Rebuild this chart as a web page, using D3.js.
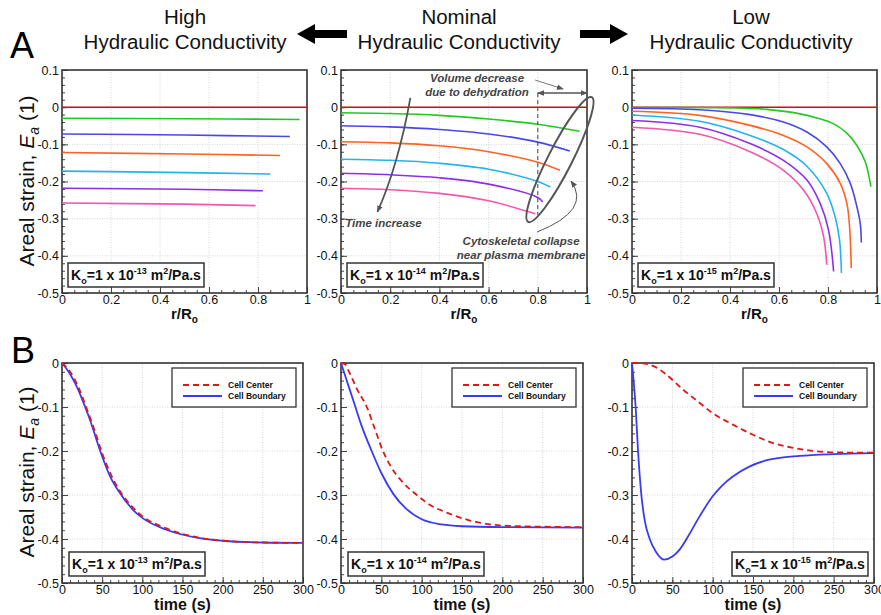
<!DOCTYPE html>
<html><head><meta charset="utf-8">
<script src="https://cdn.jsdelivr.net/npm/d3@7"></script>
<style>
body{margin:0;background:#fff}
svg{font-family:"Liberation Sans",Arial,sans-serif}
</style></head><body>
<svg width="881" height="615"></svg>
<script>
// tick values
const rTicks = [0, 0.2, 0.4, 0.6, 0.8, 1];
const strainTicksA = [0.1, 0, -0.1, -0.2, -0.3, -0.4, -0.5];
const strainTicksB = [0, -0.1, -0.2, -0.3, -0.4, -0.5];
const timeTicks = [0, 50, 100, 150, 200, 250, 300];
const kExponents = ["-13", "-14", "-15"];
const headers = ["High", "Nominal", "Low"];
const legendNames = ["Cell Center", "Cell Boundary"];

// A: areal strain vs r/Ro, one curve per time step
const zeroLine = [[0, 0], [1, 0]];
const highStrain = [
  [[0,-0.030],[0.5,-0.031],[0.97,-0.033]],
  [[0,-0.072],[0.5,-0.075],[0.93,-0.079]],
  [[0,-0.122],[0.5,-0.126],[0.89,-0.130]],
  [[0,-0.172],[0.5,-0.176],[0.85,-0.180]],
  [[0,-0.218],[0.5,-0.221],[0.82,-0.225]],
  [[0,-0.258],[0.5,-0.261],[0.79,-0.265]]
];
const nominalStrain = [
  [[0,-0.015],[0.2,-0.017],[0.4,-0.022],[0.6,-0.032],[0.8,-0.046],[0.97,-0.065]],
  [[0,-0.050],[0.2,-0.053],[0.4,-0.060],[0.6,-0.072],[0.8,-0.094],[0.93,-0.118]],
  [[0,-0.093],[0.2,-0.096],[0.4,-0.104],[0.6,-0.120],[0.8,-0.148],[0.89,-0.170]],
  [[0,-0.140],[0.2,-0.143],[0.4,-0.151],[0.6,-0.167],[0.8,-0.200],[0.85,-0.215]],
  [[0,-0.178],[0.2,-0.182],[0.4,-0.190],[0.6,-0.207],[0.8,-0.243],[0.82,-0.255]],
  [[0,-0.218],[0.2,-0.222],[0.4,-0.232],[0.6,-0.252],[0.79,-0.287]]
];
const lowStrain = [
  [[0,-0.001],[0.41,-0.002],[0.55,-0.006],[0.686,-0.018],[0.754,-0.029],[0.823,-0.045],[0.877,-0.07],[0.918,-0.103],[0.952,-0.147],[0.975,-0.214]],
  [[0,-0.003],[0.277,-0.007],[0.482,-0.02],[0.618,-0.04],[0.714,-0.067],[0.795,-0.107],[0.85,-0.152],[0.891,-0.205],[0.918,-0.268],[0.932,-0.315],[0.936,-0.364]],
  [[0,-0.011],[0.277,-0.022],[0.482,-0.049],[0.618,-0.076],[0.714,-0.107],[0.795,-0.152],[0.85,-0.205],[0.877,-0.259],[0.888,-0.321],[0.895,-0.433]],
  [[0,-0.021],[0.277,-0.038],[0.482,-0.076],[0.618,-0.114],[0.714,-0.159],[0.795,-0.232],[0.829,-0.295],[0.847,-0.357],[0.855,-0.446]],
  [[0,-0.036],[0.277,-0.054],[0.482,-0.098],[0.618,-0.143],[0.714,-0.196],[0.768,-0.259],[0.802,-0.33],[0.823,-0.442]],
  [[0,-0.054],[0.277,-0.073],[0.482,-0.12],[0.618,-0.17],[0.7,-0.223],[0.754,-0.286],[0.782,-0.348],[0.795,-0.424]]
];

// B: areal strain vs time (s)
const highCenter = [[0,0],[10,-0.02],[20,-0.053],[30,-0.1],[40,-0.15],[50,-0.205],[60,-0.25],[70,-0.285],[88,-0.328],[100,-0.348],[130,-0.376],[171,-0.397],[200,-0.404],[250,-0.408],[300,-0.409]];
const highBoundary = [[0,0],[10,-0.025],[20,-0.06],[26,-0.087],[35,-0.13],[47,-0.197],[60,-0.258],[70,-0.29],[88,-0.333],[100,-0.352],[130,-0.379],[171,-0.398],[200,-0.404],[250,-0.408],[300,-0.409]];
const nominalCenter = [[0,0],[5,-0.003],[10,-0.02],[20,-0.06],[32,-0.1],[42,-0.15],[52,-0.2],[62,-0.236],[75,-0.268],[94,-0.3],[110,-0.322],[131,-0.34],[160,-0.358],[197,-0.369],[250,-0.372],[300,-0.373]];
const nominalBoundary = [[0,0],[5,-0.028],[10,-0.056],[17,-0.095],[25,-0.14],[38,-0.2],[50,-0.25],[65,-0.298],[80,-0.33],[100,-0.355],[125,-0.367],[150,-0.371],[200,-0.373],[300,-0.374]];
const lowCenter = [[0,0],[10,0],[20,-0.003],[30,-0.01],[43,-0.027],[63,-0.06],[84,-0.091],[100,-0.114],[125,-0.14],[150,-0.163],[175,-0.182],[200,-0.193],[225,-0.2],[250,-0.203],[300,-0.204]];
const lowBoundary = [[0,0],[2,-0.04],[4.5,-0.1],[7.5,-0.2],[11.6,-0.3],[16,-0.36],[22,-0.4],[30,-0.43],[40,-0.447],[50,-0.44],[59,-0.424],[72,-0.386],[84,-0.348],[100,-0.303],[112,-0.278],[125,-0.258],[146,-0.235],[167,-0.221],[208,-0.211],[250,-0.207],[300,-0.205]];

const curveColors = ["#22c822", "#4848e8", "#ff6222", "#22b4ec", "#8c30e8", "#f256ae"];
const zeroColor = "#cc1111";

const svg = d3.select("svg");
const font = '"Liberation Sans",Arial,sans-serif';

// marker defs
const defs = svg.append("defs");
defs.append("marker").attr("id", "arr").attr("viewBox", "0 0 10 10")
  .attr("refX", 9).attr("refY", 5).attr("markerWidth", 7).attr("markerHeight", 7)
  .attr("markerUnits", "userSpaceOnUse").attr("orient", "auto-start-reverse")
  .append("path").attr("d", "M0,1 L10,5 L0,9 Z").attr("fill", "#555");

// header
const headerX = [185, 459, 751];
headers.forEach((h, i) => {
  const t = svg.append("text").attr("x", headerX[i]).attr("text-anchor", "middle")
    .attr("font-size", 20.5).attr("fill", "#111");
  t.append("tspan").attr("x", headerX[i]).attr("y", 24).text(h);
  t.append("tspan").attr("x", headerX[i]).attr("y", 49).text("Hydraulic Conductivity");
});
svg.append("path").attr("d", "M297,34 L315,24 L315,30 L347,30 L347,38 L315,38 L315,44 Z").attr("fill", "#000");
svg.append("path").attr("d", "M628,34 L610,24 L610,30 L580,30 L580,38 L610,38 L610,44 Z").attr("fill", "#000");
svg.append("text").attr("x", 10).attr("y", 58).attr("font-size", 36).text("A");
svg.append("text").attr("x", 11).attr("y", 363).attr("font-size", 36).text("B");

function fmtR(d) { return (d === 0 || d === 1) ? String(d) : d.toFixed(1); }
function fmtS(d) { return d === 0 ? "0" : d.toFixed(1); }

function drawAxes(g, x, y, xt, xm, yt, ym, fx, fy) {
  const [x0, x1] = x.range(), [y0, y1] = y.range();
  g.append("g").selectAll("line").data(xt.slice(1, -1)).join("line")
    .attr("x1", d => x(d)).attr("x2", d => x(d)).attr("y1", y0).attr("y2", y1)
    .attr("stroke", "#d4d4d4").attr("stroke-dasharray", "1,1.5");
  g.append("g").selectAll("line").data(yt.filter(d => d !== y.domain()[0] && d !== y.domain()[1])).join("line")
    .attr("y1", d => y(d)).attr("y2", d => y(d)).attr("x1", x0).attr("x2", x1)
    .attr("stroke", "#d4d4d4").attr("stroke-dasharray", "1,1.5");

  const ym1 = g.append("g").attr("transform", `translate(${x0},0)`)
    .call(d3.axisLeft(y).tickValues(ym).tickSize(-3).tickFormat(""));
  const ya = g.append("g").attr("transform", `translate(${x0},0)`)
    .call(d3.axisLeft(y).tickValues(yt).tickSize(-6).tickPadding(3).tickFormat(fy));
  const xm1 = g.append("g").attr("transform", `translate(0,${y0})`)
    .call(d3.axisBottom(x).tickValues(xm).tickSize(-3).tickFormat(""));
  const xa = g.append("g").attr("transform", `translate(0,${y0})`)
    .call(d3.axisBottom(x).tickValues(xt).tickSize(-6).tickPadding(2).tickFormat(fx));
  [ym1, ya, xm1, xa].forEach(a => {
    a.select(".domain").remove();
    a.attr("font-family", font).attr("font-size", 12.5);
    a.selectAll("line").attr("stroke", "#444");
    a.selectAll("text").attr("fill", "#111");
  });
  g.append("rect").attr("x", x0).attr("y", y1).attr("width", x1 - x0).attr("height", y0 - y1)
    .attr("fill", "none").attr("stroke", "#333").attr("stroke-width", 1.6);
}

function kLabel(g, bx, by, exp) {
  g.append("rect").attr("x", bx).attr("y", by).attr("width", 136).attr("height", 24)
    .attr("fill", "#fff").attr("stroke", "#333").attr("stroke-width", 1.5);
  const t = g.append("text").attr("x", bx + 68).attr("y", by + 17).attr("text-anchor", "middle")
    .attr("font-size", 14).attr("font-weight", "bold").attr("fill", "#111");
  t.append("tspan").text("K");
  t.append("tspan").attr("font-size", 9).attr("dy", 4).text("o");
  t.append("tspan").attr("dy", -4).text("=1 x 10");
  t.append("tspan").attr("font-size", 9).attr("dy", -6).text(exp);
  t.append("tspan").attr("dy", 6).text(" m");
  t.append("tspan").attr("font-size", 9).attr("dy", -6).text("2");
  t.append("tspan").attr("dy", 6).text("/Pa.s");
}

function yLabel(cy) {
  const t = svg.append("text").attr("transform", `translate(34,${cy}) rotate(-90)`)
    .attr("text-anchor", "middle").attr("font-size", 21).attr("fill", "#111");
  t.append("tspan").text("Areal strain, ");
  t.append("tspan").attr("font-style", "italic").text("E");
  t.append("tspan").attr("font-style", "italic").attr("font-size", 14).attr("dy", 5).text("a");
  t.append("tspan").attr("dy", -5).text(" (1)");
}
yLabel(181);
yLabel(472);

// ---- row A ----
const topLayout = [{l: 62, r: 307}, {l: 341, r: 587}, {l: 632, r: 877}];
const topData = [highStrain, nominalStrain, lowStrain];
const rMinor = d3.range(0, 21).map(i => i * 0.05);
const sMinorA = d3.range(-25, 6).map(i => i * 0.02);
const xScalesA = [], yScalesA = [];
topLayout.forEach((p, i) => {
  const g = svg.append("g");
  const x = d3.scaleLinear().domain([0, 1]).range([p.l, p.r]);
  const y = d3.scaleLinear().domain([-0.5, 0.1]).range([293, 70]);
  xScalesA.push(x); yScalesA.push(y);
  drawAxes(g, x, y, rTicks, rMinor, strainTicksA, sMinorA, fmtR, fmtS);
  const line = d3.line().x(d => x(d[0])).y(d => y(d[1])).curve(d3.curveCatmullRom.alpha(0.5));
  g.append("path").attr("d", line(zeroLine)).attr("fill", "none").attr("stroke", zeroColor).attr("stroke-width", 1.5);
  g.selectAll(".curve").data(topData[i]).join("path").attr("class", "curve")
    .attr("d", line).attr("fill", "none").attr("stroke", (d, j) => curveColors[j]).attr("stroke-width", 1.6);
  kLabel(g, p.l + 6, 263, kExponents[i]);
  const xl = g.append("text").attr("x", (p.l + p.r) / 2).attr("y", 319).attr("text-anchor", "middle")
    .attr("font-size", 15).attr("font-weight", "bold").attr("fill", "#111");
  xl.append("tspan").text("r/R");
  xl.append("tspan").attr("font-size", 10).attr("dy", 4).text("o");
});

// annotations on the nominal panel
{
  const x = xScalesA[1], y = yScalesA[1];
  const g = svg.append("g").attr("fill", "#444").attr("font-style", "italic").attr("font-weight", "bold").attr("font-size", 11.5);
  g.append("text").attr("x", x(0.553)).attr("y", y(0.068)).attr("text-anchor", "middle").text("Volume decrease");
  g.append("text").attr("x", x(0.553)).attr("y", y(0.030)).attr("text-anchor", "middle").text("due to dehydration");
  g.append("text").attr("x", x(0.017)).attr("y", y(-0.322)).text("Time increase");
  g.append("text").attr("x", x(0.732)).attr("y", y(-0.371)).attr("text-anchor", "middle").text("Cytoskeletal collapse");
  g.append("text").attr("x", x(0.732)).attr("y", y(-0.408)).attr("text-anchor", "middle").text("near plasma membrane");

  svg.append("line").attr("x1", x(0.8)).attr("x2", x(0.8)).attr("y1", y(0.038)).attr("y2", y(-0.29))
    .attr("stroke", "#444").attr("stroke-dasharray", "4,3");
  svg.append("line").attr("x1", x(0.8)).attr("x2", x(1)).attr("y1", y(0.038)).attr("y2", y(0.038))
    .attr("stroke", "#555").attr("stroke-width", 1.5)
    .attr("marker-start", "url(#arr)").attr("marker-end", "url(#arr)");
  svg.append("line").attr("x1", x(0.789)).attr("y1", y(0.073)).attr("x2", x(0.903)).attr("y2", y(0.049))
    .attr("stroke", "#555").attr("stroke-width", 0.8).attr("marker-end", "url(#arr)");
  svg.append("ellipse").attr("transform", `translate(${x(0.89)},${y(-0.141)}) rotate(-63)`)
    .attr("rx", 70).attr("ry", 12).attr("fill", "none").attr("stroke", "#555").attr("stroke-width", 2);
  svg.append("path")
    .attr("d", `M${x(0.282)},${y(0.025)} Q${x(0.233)},${y(-0.156)} ${x(0.148)},${y(-0.282)}`)
    .attr("fill", "none").attr("stroke", "#555").attr("stroke-width", 1.8).attr("marker-end", "url(#arr)");
  svg.append("path")
    .attr("d", `M${x(0.797)},${y(-0.336)} Q${x(1.02)},${y(-0.277)} ${x(0.935)},${y(-0.199)}`)
    .attr("fill", "none").attr("stroke", "#555").attr("stroke-width", 1).attr("marker-end", "url(#arr)");
}

// ---- row B ----
const botLayout = [{l: 62, r: 303}, {l: 341, r: 583}, {l: 632, r: 874}];
const botData = [[highCenter, highBoundary], [nominalCenter, nominalBoundary], [lowCenter, lowBoundary]];
const tMinor = d3.range(0, 31).map(i => i * 10);
const sMinorB = d3.range(-25, 1).map(i => i * 0.02);
botLayout.forEach((p, i) => {
  const g = svg.append("g");
  const x = d3.scaleLinear().domain([0, 300]).range([p.l, p.r]);
  const y = d3.scaleLinear().domain([-0.5, 0]).range([583, 363]);
  drawAxes(g, x, y, timeTicks, tMinor, strainTicksB, sMinorB, d => String(d), fmtS);
  const line = d3.line().x(d => x(d[0])).y(d => y(d[1])).curve(d3.curveMonotoneX);
  g.append("path").attr("d", line(botData[i][1])).attr("fill", "none").attr("stroke", "#3a3af5").attr("stroke-width", 1.8);
  g.append("path").attr("d", line(botData[i][0])).attr("fill", "none").attr("stroke", "#dd1818")
    .attr("stroke-width", 1.8).attr("stroke-dasharray", "6,4");
  // legend
  const lx = p.r - 131, ly = 368;
  g.append("rect").attr("x", lx).attr("y", ly).attr("width", 124).attr("height", 39)
    .attr("fill", "#fff").attr("stroke", "#333").attr("stroke-width", 1.3);
  legendNames.forEach((n, j) => {
    const yy = ly + 17 + j * 11;
    g.append("line").attr("x1", lx + 11).attr("x2", lx + 50).attr("y1", yy).attr("y2", yy)
      .attr("stroke", j === 0 ? "#dd1818" : "#3a3af5").attr("stroke-width", 1.8)
      .attr("stroke-dasharray", j === 0 ? "6,4" : null);
    g.append("text").attr("x", lx + 56).attr("y", yy + 3).attr("font-size", 8.5).attr("font-weight", "bold")
      .attr("fill", "#111").text(n);
  });
  kLabel(g, i === 2 ? p.r - 142 : p.l + 7, 552, kExponents[i]);
  g.append("text").attr("x", (p.l + p.r) / 2).attr("y", 610).attr("text-anchor", "middle")
    .attr("font-size", 16).attr("font-weight", "bold").attr("fill", "#111").text("time (s)");
});
</script>
</body></html>
